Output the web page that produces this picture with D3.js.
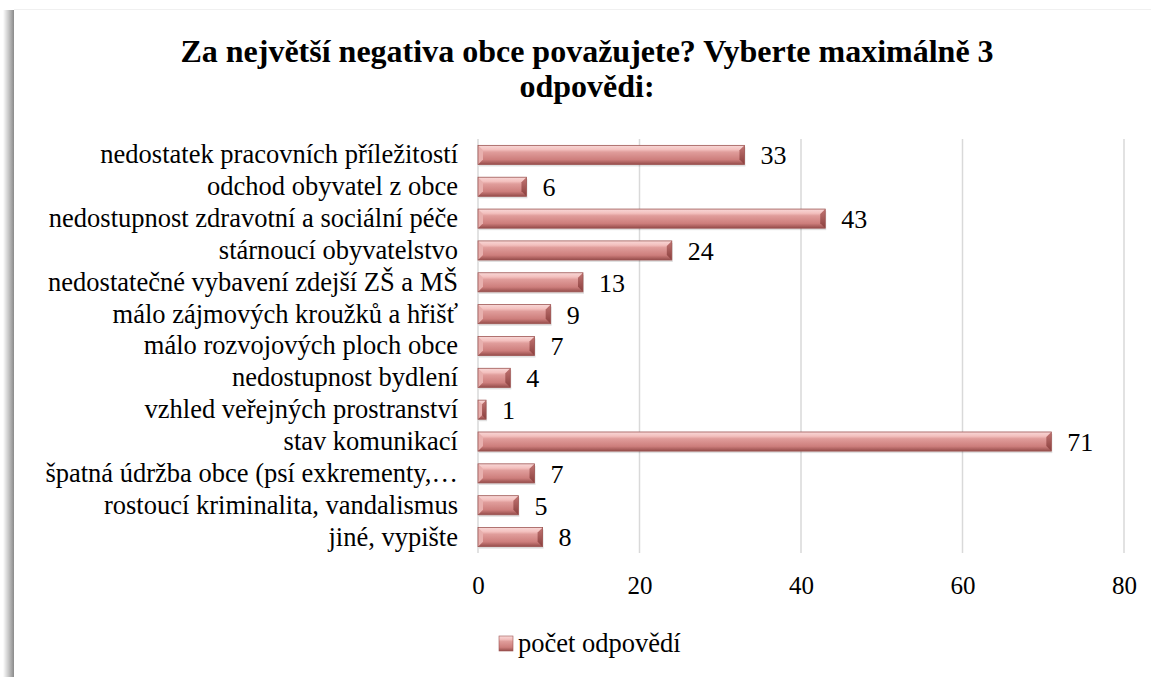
<!DOCTYPE html>
<html>
<head>
<meta charset="utf-8">
<script src="https://cdn.jsdelivr.net/npm/d3@7"></script>
<style>
  body { margin: 0; background: #fff; }
</style>
</head>
<body>
<div class="chart"></div>
<script>
var categories = [
  "nedostatek pracovních příležitostí",
  "odchod obyvatel z obce",
  "nedostupnost zdravotní a sociální péče",
  "stárnoucí obyvatelstvo",
  "nedostatečné vybavení zdejší ZŠ a MŠ",
  "málo zájmových kroužků a hřišť",
  "málo rozvojových ploch obce",
  "nedostupnost bydlení",
  "vzhled veřejných prostranství",
  "stav komunikací",
  "špatná údržba obce (psí exkrementy,…",
  "rostoucí kriminalita, vandalismus",
  "jiné, vypište"
];
var values = [33, 6, 43, 24, 13, 9, 7, 4, 1, 71, 7, 5, 8];
var xTicks = [0, 20, 40, 60, 80];
var seriesName = "počet odpovědí";
var titleLines = ["Za největší negativa obce považujete? Vyberte maximálně 3", "odpovědi:"];

var FONT = "Liberation Serif";
var W = 1151, H = 677;
var margin = {top: 139, left: 478, right: 27, bottom: 124};
var width = W - margin.left - margin.right,
    height = H - margin.top - margin.bottom;

var svg = d3.select(".chart").append("svg")
    .attr("width", W).attr("height", H)
    .attr("font-family", FONT);

var defs = svg.append("defs");
var shadow = defs.append("linearGradient").attr("id", "frameShadow")
    .attr("x1", "0").attr("x2", "1").attr("y1", "0").attr("y2", "0");
shadow.append("stop").attr("offset", "0").attr("stop-color", "#fff");
shadow.append("stop").attr("offset", "0.5").attr("stop-color", "#c8c8c8");
shadow.append("stop").attr("offset", "1").attr("stop-color", "#8a8a8a");

var barGrad = defs.append("linearGradient").attr("id", "barGrad")
    .attr("x1", "0").attr("x2", "0").attr("y1", "0").attr("y2", "1");
barGrad.append("stop").attr("offset", "0").attr("stop-color", "#f8d8d7");
barGrad.append("stop").attr("offset", "0.22").attr("stop-color", "#f3c0be");
barGrad.append("stop").attr("offset", "0.35").attr("stop-color", "#e09d9b");
barGrad.append("stop").attr("offset", "0.75").attr("stop-color", "#cd7e7c");
barGrad.append("stop").attr("offset", "1").attr("stop-color", "#954c4a");

var capGrad = defs.append("linearGradient").attr("id", "capGrad")
    .attr("x1", "0").attr("x2", "0").attr("y1", "0").attr("y2", "1");
capGrad.append("stop").attr("offset", "0").attr("stop-color", "#c27573");
capGrad.append("stop").attr("offset", "1").attr("stop-color", "#8a3f3d");

// frame: left shadow edge + faint top border
svg.append("rect").attr("x", 3).attr("y", 10).attr("width", 11).attr("height", H - 10)
    .attr("fill", "url(#frameShadow)");
svg.append("line").attr("x1", 14).attr("x2", W).attr("y1", 9.5).attr("y2", 9.5)
    .attr("stroke", "#f0f0f0");

// title
svg.append("text")
    .attr("x", 587).attr("y", 62)
    .attr("text-anchor", "middle")
    .attr("font-family", FONT)
    .attr("font-size", 32).attr("font-weight", "bold")
    .selectAll("tspan").data(titleLines).enter().append("tspan")
    .attr("x", 587).attr("dy", function(d, i){ return i == 0 ? 0 : 35; })
    .text(function(d){ return d; });

var g = svg.append("g")
    .attr("transform", "translate(" + margin.left + "," + margin.top + ")");

var x = d3.scaleLinear().domain([0, 80]).range([0, width]);
var y = d3.scaleBand().domain(categories).range([0, height]).paddingInner(0.4).paddingOuter(0.2);

// gridlines
g.selectAll(".grid").data(xTicks).enter().append("line")
    .attr("class", "grid")
    .attr("x1", function(d){ return x(d); }).attr("x2", function(d){ return x(d); })
    .attr("y1", 0).attr("y2", height)
    .attr("stroke", "#d9d9d9").attr("stroke-width", 1.5);

// x axis
var xAxis = d3.axisBottom(x).tickValues(xTicks).tickSize(0).tickPadding(23);
g.append("g").attr("transform", "translate(0," + height + ")")
    .call(xAxis)
    .attr("font-family", FONT).attr("font-size", 25)
    .call(function(s){ s.select(".domain").remove(); })
    .selectAll("text").attr("fill", "#000");

// y axis labels
var yAxis = d3.axisLeft(y).tickSize(0).tickPadding(20);
g.append("g").call(yAxis)
    .attr("font-family", FONT).attr("font-size", 26.5)
    .call(function(s){ s.select(".domain").remove(); })
    .selectAll("text").attr("fill", "#000");

// bars with bevel
var bev = 5;
var bars = g.selectAll(".bar").data(values).enter().append("g")
    .attr("class", "bar")
    .attr("transform", function(d, i){ return "translate(0," + y(categories[i]) + ")"; });
var bh = y.bandwidth();

bars.append("rect")
    .attr("x", 1).attr("y", 2).attr("height", bh)
    .attr("width", function(d){ return Math.max(0, x(d)); })
    .attr("fill", "#000").attr("opacity", 0.12);
bars.append("rect")
    .attr("x", 0).attr("y", 0).attr("height", bh)
    .attr("width", function(d){ return x(d); })
    .attr("fill", "url(#barGrad)");
bars.append("path")
    .attr("d", function(d){
        var w = x(d), b = Math.min(bev, w / 2);
        return "M" + (w - b) + "," + b + "L" + w + ",0L" + w + "," + bh + "L" + (w - b) + "," + (bh - b) + "Z";
    })
    .attr("fill", "url(#capGrad)");
bars.append("path")
    .attr("d", function(d){
        var w = x(d), b = Math.min(bev, w / 2);
        return "M0,0L" + b + "," + b + "L" + b + "," + (bh - b) + "L0," + bh + "Z";
    })
    .attr("fill", "#e8b0ae");
bars.append("rect")
    .attr("x", 0).attr("y", 0).attr("height", bh)
    .attr("width", function(d){ return x(d); })
    .attr("fill", "none").attr("stroke", "#9d5553").attr("stroke-width", 0.8);

// value labels
bars.append("text")
    .attr("x", function(d){ return x(d) + 16; })
    .attr("y", bh / 2)
    .attr("dy", "0.36em")
    .attr("font-family", FONT).attr("font-size", 26)
    .text(function(d){ return d; });

// legend
var lg = svg.append("g").attr("transform", "translate(499,636)");
lg.append("rect").attr("width", 14).attr("height", 15).attr("fill", "url(#barGrad)")
    .attr("stroke", "#9d5553").attr("stroke-width", 0.6);
lg.append("text").attr("x", 19).attr("y", 16)
    .attr("font-family", FONT).attr("font-size", 26.5).text(seriesName);
</script>
</body>
</html>
